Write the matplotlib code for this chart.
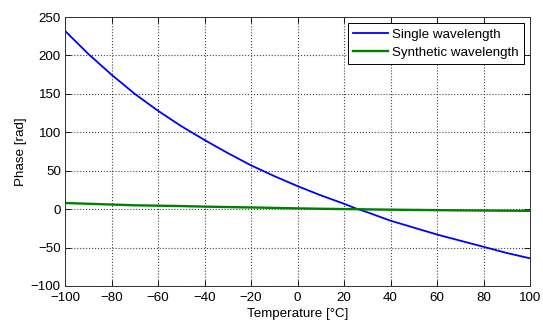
import matplotlib
matplotlib.use("Agg")
import matplotlib.pyplot as plt
import numpy as np

# values
temperature = [-100, -90, -80, -70, -60, -50, -40, -30, -20, -10, 0, 10, 20, 25, 30, 40, 50, 60, 70, 80, 90, 100]
phase_single = [232, 202, 175, 150, 128, 108, 90, 73, 57, 43, 30, 18, 7, 1, -4, -15, -24, -33, -41, -49, -57, -64]
phase_synth = [8, 7, 6, 5, 4.5, 4, 3.3, 2.7, 2.2, 1.6, 1, 0.5, 0.1, 0, -0.3, -0.7, -1, -1.3, -1.6, -1.8, -2, -2.2]

x_ticks = list(range(-100, 101, 20))
y_ticks = list(range(-100, 251, 50))

plt.rcParams['font.family'] = ['Liberation Sans', 'DejaVu Sans']
plt.rcParams['font.size'] = 9.6

fig = plt.figure(figsize=(5.43, 3.23), dpi=100)
# axes box: x 65..530, y 17..286 pixels
ax = fig.add_axes([65 / 543, 1 - 286 / 323, (530 - 65) / 543, (286 - 17) / 323])

ax.plot(temperature, phase_single, color='#0000ff', linewidth=1.3, label='Single wavelength')
ax.plot(temperature, phase_synth, color='#008000', linewidth=1.7, label='Synthetic wavelength')

ax.set_xlim(-100, 100)
ax.set_ylim(-100, 250)
ax.set_xticks(x_ticks)
ax.set_yticks(y_ticks)
ax.tick_params(direction='in', top=True, right=True, length=4, width=0.6)
ax.tick_params(axis='x', pad=4)
ax.tick_params(axis='y', pad=3)
ax.grid(True, linestyle=':', color='#444444', linewidth=0.8)
for s in ax.spines.values():
    s.set_linewidth(0.7)
    s.set_color('#333333')

ax.set_xlabel('Temperature [°C]', labelpad=3)
ax.set_ylabel('Phase [rad]', labelpad=3)

leg = ax.legend(loc='upper right', fancybox=False, framealpha=1, edgecolor='black',
                borderaxespad=0.45, handlelength=2.6, handletextpad=0.3,
                borderpad=0.4, labelspacing=0.45)
leg.get_frame().set_linewidth(0.7)

fig.savefig('out.png', dpi=100)
